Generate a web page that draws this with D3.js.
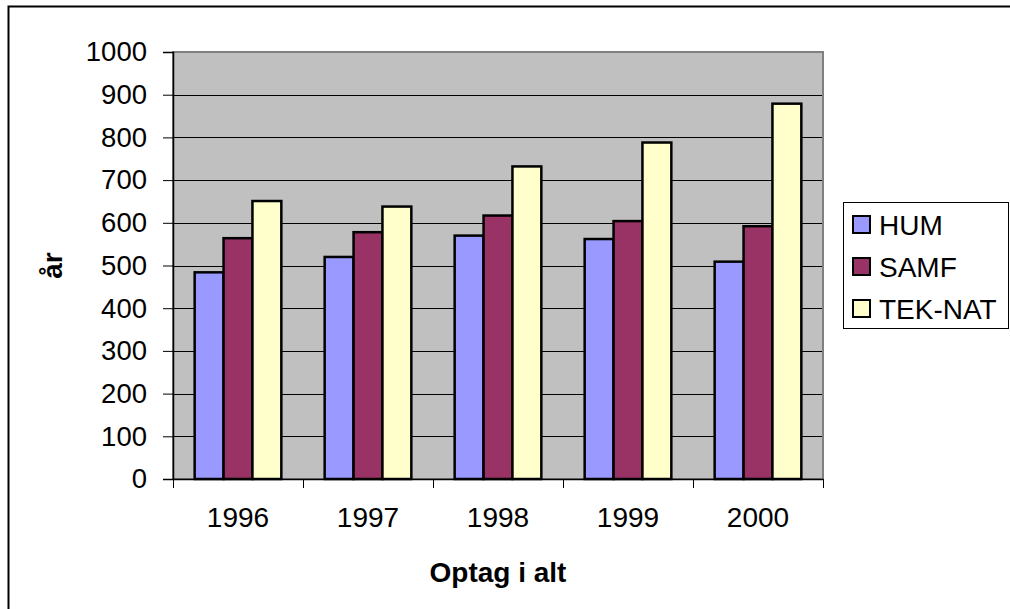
<!DOCTYPE html>
<html>
<head>
<meta charset="utf-8">
<script src="https://cdnjs.cloudflare.com/ajax/libs/d3/7.8.5/d3.min.js"></script>
<style>
  body { margin: 0; background: #fff; }
  text { font-family: "Liberation Sans", Arial, sans-serif; fill: #000; }
</style>
</head>
<body>
<div id="chart"></div>
<script>
var years = ["1996", "1997", "1998", "1999", "2000"],
    seriesNames = ["HUM", "SAMF", "TEK-NAT"],
    hum = [484, 520, 570, 562, 509],
    samf = [564, 578, 617, 604, 592],
    teknat = [651, 638, 732, 788, 879],
    yTicks = [0, 100, 200, 300, 400, 500, 600, 700, 800, 900, 1000],
    colors = ["#9999ff", "#993366", "#ffffcc"];

var seriesValues = [hum, samf, teknat];

var W = 1010, H = 609;
var margin = {top: 52, right: 187, bottom: 130, left: 173},
    width = W - margin.left - margin.right,
    height = H - margin.top - margin.bottom;

var svg = d3.select("#chart").append("svg")
    .attr("width", W)
    .attr("height", H);

// outer frame, runs off the right and bottom edges
svg.append("rect")
    .attr("x", 8.5).attr("y", 6.5)
    .attr("width", W + 10).attr("height", H + 10)
    .attr("fill", "#fff")
    .attr("stroke", "#000")
    .attr("stroke-width", 2);

var g = svg.append("g")
    .attr("transform", "translate(" + margin.left + "," + margin.top + ")");

var x0 = d3.scaleBand()
    .domain(years)
    .range([0, width]);

// Excel gap width 150%: three bars + 1.5 bar of gap per category
var x1 = d3.scaleBand()
    .domain(seriesNames)
    .range([0, x0.bandwidth() * 3 / 4.5]);

var y = d3.scaleLinear()
    .domain([0, 1000])
    .range([height, 0]);

g.append("rect")
    .attr("width", width)
    .attr("height", height)
    .attr("fill", "#c0c0c0");

g.append("g")
    .attr("class", "grid")
    .selectAll("line")
    .data(yTicks.filter(function(d) { return d > 0 && d < 1000; }))
  .enter().append("line")
    .attr("x1", 0).attr("x2", width)
    .attr("y1", function(d) { return Math.round(y(d)) + 0.5; })
    .attr("y2", function(d) { return Math.round(y(d)) + 0.5; })
    .attr("stroke", "#000")
    .attr("stroke-width", 1);

g.append("rect")
    .attr("width", width)
    .attr("height", height)
    .attr("fill", "none")
    .attr("stroke", "#808080")
    .attr("stroke-width", 2);

var groups = g.selectAll(".year")
    .data(years)
  .enter().append("g")
    .attr("class", "year")
    .attr("transform", function(d) { return "translate(" + (x0(d) + x0.bandwidth() * 0.75 / 4.5) + ",0)"; });

groups.selectAll("rect")
    .data(function(d, i) { return seriesNames.map(function(s, j) { return {s: s, v: seriesValues[j][i], c: colors[j]}; }); })
  .enter().append("rect")
    .attr("x", function(d) { return x1(d.s); })
    .attr("y", function(d) { return y(d.v); })
    .attr("width", x1.bandwidth())
    .attr("height", function(d) { return height - y(d.v); })
    .attr("fill", function(d) { return d.c; })
    .attr("stroke", "#000")
    .attr("stroke-width", 2.5);

var yAxis = g.append("g")
    .call(d3.axisLeft(y).tickValues(yTicks).tickSize(10).tickPadding(16).tickFormat(d3.format("d")));
yAxis.select(".domain").attr("stroke", "#000").attr("stroke-width", 1.5);
yAxis.selectAll(".tick line").attr("stroke", "#000");
yAxis.selectAll("text").attr("font-size", 27.5).attr("font-family", "Liberation Sans, Arial, sans-serif");

var xAxis = g.append("g")
    .attr("transform", "translate(0," + height + ")")
    .call(d3.axisBottom(x0).tickSize(0).tickPadding(28));
xAxis.select(".domain").attr("stroke", "#000").attr("stroke-width", 1.5);
xAxis.selectAll("text").attr("font-size", 28).attr("font-family", "Liberation Sans, Arial, sans-serif");

xAxis.selectAll(".sep")
    .data(d3.range(years.length + 1))
  .enter().append("line")
    .attr("class", "sep")
    .attr("x1", function(i) { return Math.round(i * x0.step()) + 0.5; })
    .attr("x2", function(i) { return Math.round(i * x0.step()) + 0.5; })
    .attr("y1", 0).attr("y2", 9)
    .attr("stroke", "#000");

svg.append("text")
    .attr("x", margin.left + width / 2)
    .attr("y", 582)
    .attr("text-anchor", "middle")
    .attr("font-size", 28)
    .attr("font-weight", "bold")
    .text("Optag i alt");

svg.append("text")
    .attr("transform", "translate(62," + (margin.top + height / 2) + ") rotate(-90)")
    .attr("text-anchor", "middle")
    .attr("font-size", 28)
    .attr("font-weight", "bold")
    .text("år");

var legend = svg.append("g")
    .attr("transform", "translate(843,202)");

legend.append("rect")
    .attr("x", 0.5).attr("y", 0.5)
    .attr("width", 165).attr("height", 126)
    .attr("fill", "#fff")
    .attr("stroke", "#000")
    .attr("stroke-width", 1);

var item = legend.selectAll(".item")
    .data(seriesNames)
  .enter().append("g")
    .attr("class", "item")
    .attr("transform", function(d, i) { return "translate(10," + (14 + i * 42) + ")"; });

item.append("rect")
    .attr("width", 17).attr("height", 17)
    .attr("fill", function(d, i) { return colors[i]; })
    .attr("stroke", "#000")
    .attr("stroke-width", 2);

item.append("text")
    .attr("x", 26)
    .attr("y", 19)
    .attr("font-size", 28)
    .text(function(d) { return d; });
</script>
</body>
</html>
